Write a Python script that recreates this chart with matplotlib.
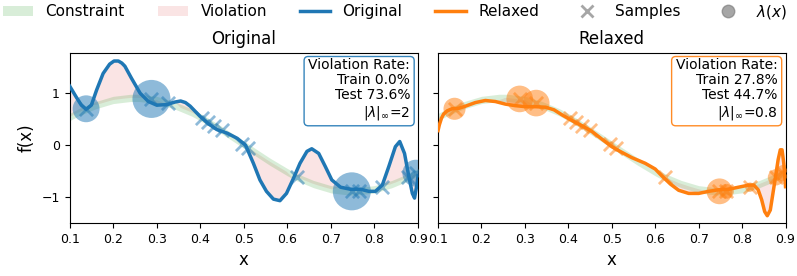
import numpy as np
import matplotlib
matplotlib.use("Agg")
import matplotlib.pyplot as plt
from matplotlib.patches import Patch
from matplotlib.lines import Line2D

# constraint centre line
con_x = [0.10, 0.12, 0.14, 0.16, 0.18, 0.20, 0.22, 0.24, 0.26, 0.28, 0.30,
         0.32, 0.34, 0.36, 0.38, 0.40, 0.42, 0.44, 0.46, 0.48, 0.50, 0.52,
         0.54, 0.56, 0.58, 0.60, 0.62, 0.64, 0.66, 0.68, 0.70, 0.72, 0.74,
         0.76, 0.78, 0.80, 0.82, 0.84, 0.86, 0.88, 0.90]
con_y = [0.53, 0.62, 0.69, 0.76, 0.81, 0.86, 0.88, 0.90, 0.90, 0.88, 0.86,
         0.81, 0.76, 0.69, 0.62, 0.53, 0.43, 0.33, 0.22, 0.11, 0.00, -0.11,
         -0.22, -0.33, -0.43, -0.53, -0.62, -0.69, -0.76, -0.81, -0.86, -0.88, -0.90,
         -0.90, -0.88, -0.86, -0.81, -0.76, -0.69, -0.62, -0.53]

# original model
orig_x = [0.100, 0.115, 0.127, 0.138, 0.150, 0.162, 0.177, 0.192, 0.202, 0.212,
          0.220, 0.227, 0.242, 0.262, 0.281, 0.300, 0.323, 0.342, 0.355, 0.366,
          0.377, 0.400, 0.419, 0.438, 0.462, 0.485, 0.504, 0.522, 0.537, 0.552,
          0.568, 0.583, 0.598, 0.614, 0.629, 0.645, 0.656, 0.672, 0.687, 0.702,
          0.722, 0.745, 0.768, 0.787, 0.802, 0.818, 0.833, 0.848, 0.858, 0.869,
          0.879, 0.887, 0.892, 0.898, 0.900]
orig_y = [1.13, 0.92, 0.76, 0.68, 0.76, 1.05, 1.37, 1.55, 1.61, 1.61,
          1.57, 1.51, 1.28, 0.99, 0.83, 0.76, 0.77, 0.82, 0.84, 0.81,
          0.74, 0.54, 0.40, 0.29, 0.22, 0.12, -0.01, -0.36, -0.68, -0.90,
          -1.05, -1.08, -0.94, -0.65, -0.36, -0.13, -0.08, -0.17, -0.42, -0.68,
          -0.82, -0.86, -0.86, -0.90, -0.90, -0.78, -0.42, -0.04, 0.06, -0.17,
          -0.62, -0.94, -1.03, -0.74, -0.60]

# relaxed model
rel_x = [0.100, 0.103, 0.108, 0.113, 0.121, 0.132, 0.148, 0.163, 0.186, 0.209,
         0.232, 0.255, 0.278, 0.302, 0.325, 0.348, 0.367, 0.386, 0.409, 0.432,
         0.455, 0.478, 0.500, 0.519, 0.546, 0.577, 0.600, 0.615, 0.635, 0.654,
         0.677, 0.700, 0.723, 0.746, 0.769, 0.792, 0.815, 0.827, 0.837, 0.845,
         0.852, 0.858, 0.865, 0.871, 0.877, 0.883, 0.888, 0.892, 0.896, 0.900]
rel_y = [0.27, 0.38, 0.51, 0.59, 0.65, 0.69, 0.70, 0.74, 0.81, 0.85,
         0.83, 0.78, 0.75, 0.73, 0.73, 0.72, 0.67, 0.57, 0.46, 0.36,
         0.25, 0.10, -0.04, -0.13, -0.25, -0.36, -0.47, -0.60, -0.76, -0.88,
         -0.94, -0.94, -0.90, -0.87, -0.86, -0.82, -0.78, -0.78, -0.87, -1.06,
         -1.29, -1.37, -1.26, -0.94, -0.62, -0.29, -0.10, -0.10, -0.36, -0.81]

# training samples and multipliers
samp_x = [0.138, 0.288, 0.326, 0.404, 0.418, 0.432, 0.450, 0.497, 0.510,
          0.622, 0.748, 0.764, 0.818, 0.878, 0.895]
samp_y = [0.69, 0.88, 0.80, 0.51, 0.44, 0.36, 0.28, 0.02, -0.06,
          -0.63, -0.90, -0.90, -0.82, -0.63, -0.55]
lam_orig = [1.0, 2.0, 0, 0, 0, 0, 0, 0, 0, 0, 2.0, 0, 0, 0, 1.0]
lam_rel = [0.55, 0.8, 0.8, 0, 0, 0, 0, 0, 0, 0, 0.75, 0.25, 0.1, 0.3, 0.3]

panels = [
    ("Original", orig_x, orig_y, lam_orig, 375, "tab:blue",
     "Violation Rate:\nTrain 0.0%\nTest 73.6%\n$|\\lambda|_\\infty$=2"),
    ("Relaxed", rel_x, rel_y, lam_rel, 460, "tab:orange",
     "Violation Rate:\nTrain 27.8%\nTest 44.7%\n$|\\lambda|_\\infty$=0.8"),
]
band = 0.07

fig = plt.figure(figsize=(7.97, 2.76), dpi=100)
ax1 = fig.add_axes([0.0873, 0.192, 0.4372, 0.617])
ax2 = fig.add_axes([0.5496, 0.192, 0.436, 0.617], sharey=ax1)

for ax, (name, fx, fy, lam, scale, col, txt) in zip([ax1, ax2], panels):
    fx = np.array(fx)
    fy = np.array(fy)
    cx = np.array(con_x)
    cy = np.array(con_y)
    c_at = np.interp(fx, cx, cy)
    ax.fill_between(fx, fy, c_at, where=np.abs(fy - c_at) > band,
                    interpolate=True, color="tab:red", alpha=0.12, lw=0)
    ax.fill_between(cx, cy - band, cy + band, color="tab:green", alpha=0.18, lw=0)
    lam = np.array(lam)
    sx = np.array(samp_x)
    sy = np.array(samp_y)
    m = lam > 0
    ax.scatter(sx[m], sy[m], s=lam[m] * scale, color=col, alpha=0.5, lw=0, zorder=2)
    ax.plot(fx, fy, color=col, lw=2.5, zorder=3)
    ax.scatter(sx, sy, marker="x", s=90, color=col, alpha=0.5, lw=2, zorder=4)
    ax.set_xlim(0.1, 0.9)
    ax.set_xticks(np.arange(0.1, 0.91, 0.1))
    ax.set_xlabel("x", fontsize=12)
    ax.set_title(name, fontsize=12)
    ax.tick_params(labelsize=9)
    ax.text(0.977, 0.968, txt, transform=ax.transAxes, ha="right", va="top",
            fontsize=10, linespacing=1.1,
            bbox=dict(boxstyle="round,pad=0.3", fc="white", ec=col, alpha=0.9))

ax1.set_ylim(-1.51, 1.77)
ax1.set_yticks([-1, 0, 1])
ax1.set_yticklabels(["\u22121", "0", "1"])
ax1.set_ylabel("f(x)", fontsize=12)
plt.setp(ax2.get_yticklabels(), visible=False)

handles = [
    Patch(color="tab:green", alpha=0.18, lw=0, label="Constraint"),
    Patch(color="tab:red", alpha=0.12, lw=0, label="Violation"),
    Line2D([], [], color="tab:blue", lw=2.5, label="Original"),
    Line2D([], [], color="tab:orange", lw=2.5, label="Relaxed"),
    Line2D([], [], color="gray", marker="x", ls="", ms=9, mew=2, alpha=0.7, label="Samples"),
    Line2D([], [], color="gray", marker="o", ls="", ms=9, alpha=0.7, label=r"$\lambda(x)$"),
]
fig.legend(handles=handles, loc="center", bbox_to_anchor=(0.4955, 0.957), ncol=6,
           frameon=False, fontsize=11, columnspacing=2.15)

fig.savefig("out.png", dpi=100)
